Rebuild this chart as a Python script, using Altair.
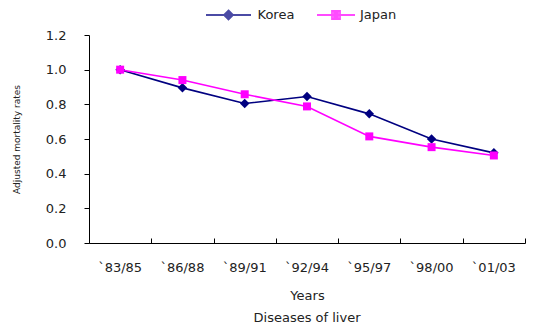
import altair as alt
import pandas as pd

# Adjusted mortality rates, diseases of liver
periods = ["`83/85", "`86/88", "`89/91", "`92/94", "`95/97", "`98/00", "`01/03"]
korea = [1.00, 0.895, 0.805, 0.845, 0.745, 0.600, 0.520]
japan = [1.00, 0.940, 0.858, 0.788, 0.615, 0.553, 0.505]

series = ["Korea", "Japan"]
colors = ["#000080", "#FF00FF"]

rows = []
for p, k, j in zip(periods, korea, japan):
    rows.append({"period": p, "country": "Korea", "rate": k})
    rows.append({"period": p, "country": "Japan", "rate": j})
df = pd.DataFrame(rows)

FONT = "DejaVu Sans"
W, H = 436, 208

band = alt.Scale(type="band", paddingInner=0, paddingOuter=0)

x_bottom = alt.X(
    "period:N",
    sort=periods,
    scale=band,
    axis=alt.Axis(
        title="Years", ticks=False, domain=True, domainColor="#000000", grid=False,
        labelAngle=0, labelPadding=18, labelFontSize=13, labelFont=FONT,
        labelColor="#222222", titleFont=FONT, titleFontSize=13,
        titleFontWeight="normal", titlePadding=15, titleColor="#222222",
    ),
)

# second x axis carrying only the band-boundary ticks, pointing up from the baseline
x_top = alt.X(
    "period:N",
    sort=periods,
    scale=band,
    axis=alt.Axis(
        orient="top", offset=-H, labels=False, domain=False, title=None, grid=False,
        ticks=True, tickBand="extent", tickSize=5, tickColor="#000000",
    ),
)
x_plain = alt.X("period:N", sort=periods, scale=band, axis=None)

y = alt.Y(
    "rate:Q",
    scale=alt.Scale(domain=[0, 1.2], nice=False),
    axis=alt.Axis(
        title="Adjusted mortality rates", values=[0, 0.2, 0.4, 0.6, 0.8, 1.0, 1.2],
        format=".1f", grid=False, labelOverlap=False, domainColor="#000000",
        tickColor="#000000", tickSize=5, labelPadding=18, labelFontSize=13,
        labelFont=FONT, labelColor="#222222", titleFont=FONT, titleFontSize=9,
        titleFontWeight="normal", titlePadding=24, titleColor="#222222",
    ),
)

lines = alt.Chart(df).mark_line(strokeWidth=1.6).encode(
    x=x_bottom,
    y=y,
    stroke=alt.Stroke("country:N", scale=alt.Scale(domain=series, range=colors), legend=None),
)

korea_pts = alt.Chart(df).transform_filter(alt.datum.country == "Korea").mark_point(
    filled=True, opacity=1, shape="diamond", size=90, color=colors[0]
).encode(x=x_top, y=y)

japan_pts = alt.Chart(df).transform_filter(alt.datum.country == "Japan").mark_point(
    filled=True, opacity=1, shape="square", size=64, color=colors[1]
).encode(x=x_plain, y=y)

# one legend per series: a line segment with the series marker on it
korea_path = "M-2.25,0H2.25M0,-0.45L0.45,0L0,0.45L-0.45,0ZM0,-0.22L0.22,0L0,0.22L-0.22,0ZM0,-0.45V0.45"
japan_path = "M-1.9,0H1.9M-0.4,-0.4H0.4V0.4H-0.4ZM-0.2,-0.2H0.2V0.2H-0.2ZM0,-0.4V0.4"


def series_legend(name, color, path, lx, label_offset):
    leg = alt.Legend(
        title=None, orient="none", direction="horizontal", legendX=lx, legendY=-31,
        symbolSize=400, symbolStrokeWidth=1.8, labelFont=FONT, labelFontSize=13,
        labelColor="#222222", labelOffset=label_offset,
    )
    return (
        alt.Chart(df)
        .transform_filter("false")
        .mark_point(filled=False, size=400, color=color, strokeWidth=1.8)
        .encode(
            x=x_plain,
            y=y,
            shape=alt.Shape("country:N", scale=alt.Scale(domain=[name], range=[path]), legend=leg),
        )
    )


korea_leg = series_legend("Korea", colors[0], korea_path, 128.5, 18)
japan_leg = series_legend("Japan", colors[1], japan_path, 236, 13)

chart = (
    alt.layer(lines, korea_pts, japan_pts, korea_leg, japan_leg)
    .resolve_axis(x="independent")
    .resolve_scale(shape="independent")
    .properties(
        width=W,
        height=H,
        background="#ffffff",
        title=alt.TitleParams(
            "Diseases of liver", orient="bottom", font=FONT, fontSize=13,
            fontWeight="normal", color="#222222", offset=10,
        ),
        autosize=alt.AutoSizeParams(type="none"),
        padding={"left": 89, "top": 35, "right": 15, "bottom": 83},
    )
    .configure_view(stroke="transparent")
)

chart.save("out.html", embed_options={"renderer": "svg", "actions": False})
